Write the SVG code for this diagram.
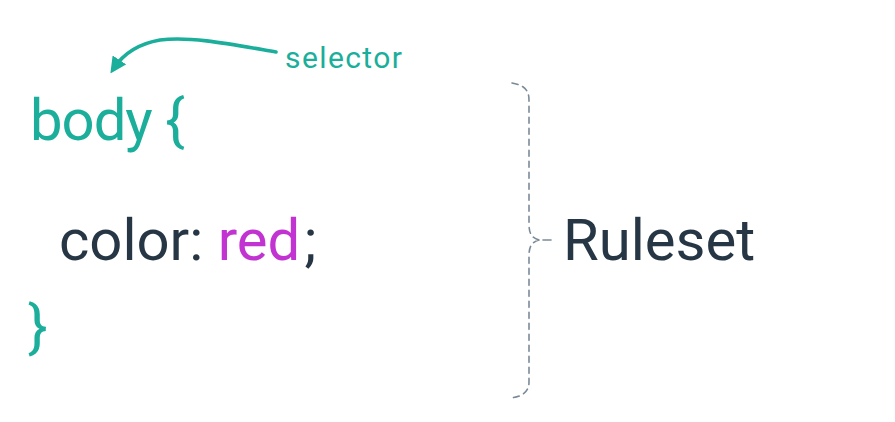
<svg xmlns="http://www.w3.org/2000/svg" width="895" height="422" viewBox="0 0 895 422">
<style>
  text { font-family: Roboto, "Noto Sans", "Liberation Sans", sans-serif; }
  .teal { fill: #1aae9b; }
  .dark { fill: #263645; }
  .purple { fill: #c234d1; }
  .big { font-size: 58px; }
  .conn { fill: none; stroke-linecap: round; stroke-linejoin: round; }
</style>
<defs>
  <marker id="arrow" viewBox="0 0 10 10" refX="6" refY="5" markerWidth="4.5" markerHeight="4.5" orient="auto" markerUnits="strokeWidth">
    <path d="M0,0 L10,5 L0,10 Z" fill="#1aae9b"/>
  </marker>
</defs>
<rect width="895" height="422" fill="#ffffff"/>
<g id="code">
  <text class="big teal" x="30" y="140" letter-spacing="-1">body {</text>
  <text class="big" x="59" y="260"><tspan class="dark">color: </tspan><tspan class="purple">red</tspan><tspan class="dark" dx="4">;</tspan></text>
  <text class="big teal" x="28" y="346">}</text>
</g>
<g id="selector-label">
  <text class="teal" x="285" y="68" font-size="30" letter-spacing="1.4">selector</text>
</g>
<g id="ruleset-label">
  <text class="dark" x="563" y="260" font-size="58">Ruleset</text>
</g>
<g id="connectors">
  <path class="conn" d="M276,52 C230,44 190,36 160,40 C137,44 122,56 114,68" stroke="#1aae9b" stroke-width="3.6" marker-end="url(#arrow)"/>
  <path class="conn" d="M512,83 C524,85 529,90 529,100 L529,224 C529,234 532,238 539,240 M539,240 C532,242 529,246 529,256 L529,382 C529,392 522,397 510,398" stroke="#7b8a99" stroke-width="1.6" stroke-dasharray="6,5"/>
  <path class="conn" d="M543,240 L551,240" stroke="#7b8a99" stroke-width="1.6"/>
</g>
</svg>
